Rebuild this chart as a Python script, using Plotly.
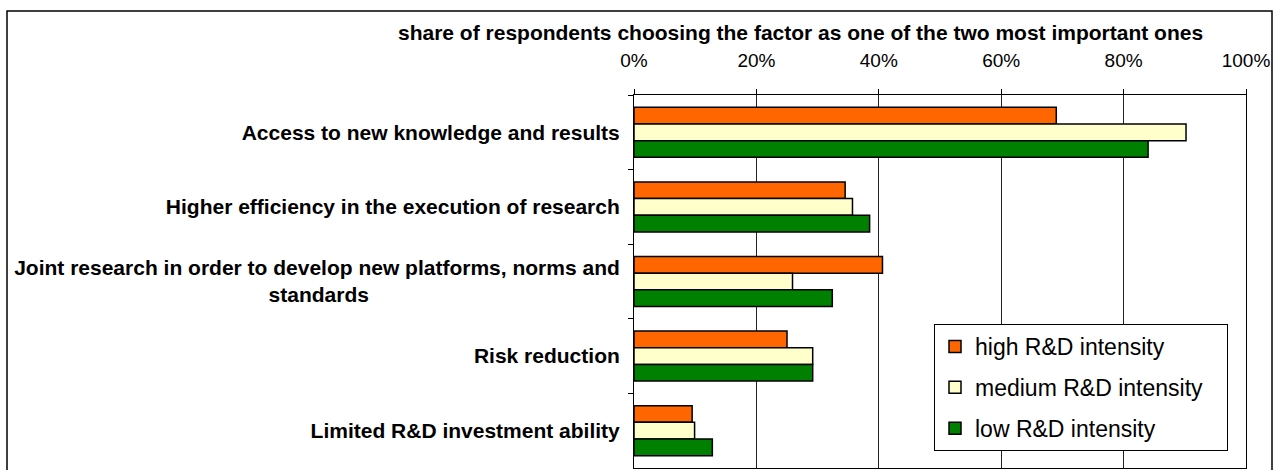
import plotly.graph_objects as go

categories = [
    "Access to new knowledge and results",
    "Higher efficiency in the execution of research",
    "Joint research in order to develop new platforms, norms and<br>standards" + "\u00a0" * 43,
    "Risk reduction",
    "Limited R&D investment ability",
]
series_names = ["high R&D intensity", "medium R&D intensity\u00a0\u00a0\u00a0", "low R&D intensity"]
high_vals = [0.69, 0.345, 0.406, 0.25, 0.095]
medium_vals = [0.902, 0.357, 0.259, 0.292, 0.099]
low_vals = [0.84, 0.385, 0.324, 0.292, 0.128]
colors = ["#FF6600", "#FFFFCC", "#008000"]
tick_vals = [0, 0.2, 0.4, 0.6, 0.8, 1.0]
axis_title = "share of respondents choosing the factor as one of the two most important ones"

W, H = 1276, 470
L, R, T, B = 634, 30, 95, 2
pw, ph = W - L - R, H - T - B

def px_x(p):
    return (p - L) / pw

def px_y(p):
    return (H - B - p) / ph

fig = go.Figure()
for name, vals, col in zip(series_names, [high_vals, medium_vals, low_vals], colors):
    fig.add_trace(go.Bar(
        y=categories, x=vals, name=name, orientation="h",
        marker=dict(color=col, line=dict(color="black", width=1.5)),
        legendgroup=name,
    ))

fig.update_layout(
    width=W, height=H,
    margin=dict(l=L, r=R, t=T, b=B),
    paper_bgcolor="white", plot_bgcolor="white",
    barmode="group", bargap=0.33, bargroupgap=0,
    font=dict(family="Liberation Sans, Arial, sans-serif", color="black"),
    legend=dict(
        x=px_x(934), y=px_y(324), xanchor="left", yanchor="top",
        bordercolor="black", borderwidth=1, bgcolor="white",
        font=dict(size=23, family="Liberation Sans, Arial, sans-serif"),
        tracegroupgap=8,
    ),
    showlegend=True,
)
fig.update_xaxes(
    side="top", range=[0, 1], tickvals=tick_vals, tickformat=".0%",
    showgrid=True, gridcolor="#222222", gridwidth=1,
    ticks="outside", ticklen=5, tickcolor="black",
    showline=True, linecolor="black", linewidth=1, mirror=True,
    tickfont=dict(size=19), ticklabelstandoff=14, zeroline=False,
)
fig.update_yaxes(
    categoryorder="array", categoryarray=categories, autorange="reversed",
    ticks="outside", ticklen=5, tickcolor="black", tickson="boundaries",
    showline=True, linecolor="black", linewidth=1, mirror=True,
    tickfont=dict(size=21, family="Liberation Sans, Arial, sans-serif", weight="bold"),
    ticklabelstandoff=9, showgrid=False,
)
fig.add_annotation(
    text="<b>" + axis_title + "</b>", xref="paper", yref="paper",
    x=px_x(800), y=px_y(32), xanchor="center", yanchor="middle",
    showarrow=False, font=dict(size=21),
)
fig.add_shape(
    type="rect", xref="paper", yref="paper",
    x0=px_x(7), x1=px_x(1272), y0=px_y(480), y1=px_y(11),
    line=dict(color="black", width=1.5), fillcolor="rgba(0,0,0,0)", layer="below",
)
fig.write_html("out.html", config={"displayModeBar": False},
               post_script="document.body.style.margin='0';")
